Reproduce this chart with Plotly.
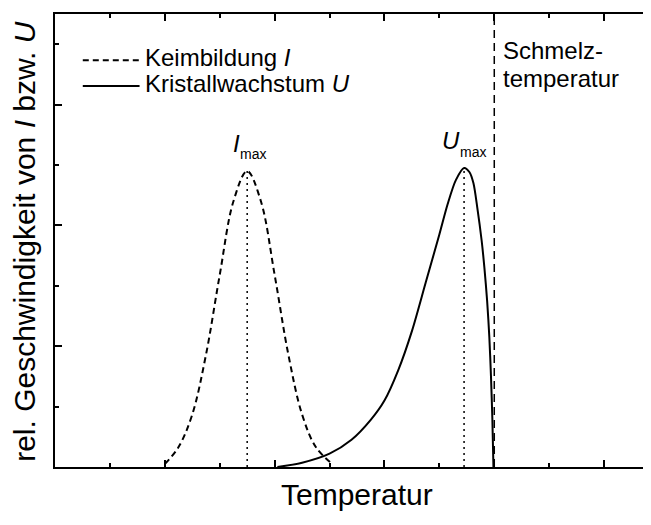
import plotly.graph_objects as go

# Keimbildung I (dashed curve)
i_x = [2.0, 2.25, 2.5, 2.75, 3.0, 3.25, 3.5, 3.75, 4.0, 4.25, 4.5, 4.75, 5.05]
i_y = [0.05, 0.33, 0.87, 1.86, 3.18, 4.40, 4.9, 4.40, 3.18, 1.86, 0.87, 0.33, 0.05]

# Kristallwachstum U (solid curve)
u_x = [4.05, 4.5, 5.0, 5.4, 5.75, 6.0, 6.25, 6.5, 6.75, 7.0, 7.15, 7.3, 7.45, 7.55, 7.62, 7.69, 7.77,
       7.82, 7.87, 7.91, 7.94, 7.965, 7.985]
u_y = [0.0, 0.07, 0.22, 0.45, 0.78, 1.1, 1.6, 2.25, 3.05, 3.85, 4.35, 4.75, 4.95, 4.88, 4.7, 4.3, 3.75,
       3.3, 2.75, 2.15, 1.5, 0.8, 0.0]

i_max_x, i_max_y = 3.5, 4.9
u_max_x, u_max_y = 7.45, 4.95
t_melt = 8.0

legend_names = ["Keimbildung <i>I</i>", "Kristallwachstum <i>U</i>"]
melt_label = ["Schmelz-", "temperatur"]
x_title = "Temperatur"
y_title = "rel. Geschwindigkeit von <i>I</i> bzw. <i>U</i>"

FONT = "Arial, Liberation Sans, sans-serif"
BLACK = "black"

fig = go.Figure()
fig.add_trace(go.Scatter(x=i_x, y=i_y, mode="lines",
                         line=dict(color=BLACK, width=2, dash="6px,4px", shape="spline", smoothing=1.0),
                         showlegend=False, hoverinfo="skip"))
fig.add_trace(go.Scatter(x=u_x, y=u_y, mode="lines",
                         line=dict(color=BLACK, width=2, shape="spline", smoothing=0.8),
                         showlegend=False, hoverinfo="skip"))

# dotted verticals at the maxima
for xm, ym in [(i_max_x, i_max_y), (u_max_x, u_max_y)]:
    fig.add_shape(type="line", x0=xm, x1=xm, y0=0, y1=ym, xref="x", yref="y",
                  line=dict(color=BLACK, width=1.5, dash="2px,4px"))
# melting temperature
fig.add_shape(type="line", x0=t_melt, x1=t_melt, y0=0, y1=1, xref="x", yref="paper",
              line=dict(color=BLACK, width=1.5, dash="8px,5px"))

# labels of the maxima
for sym, xm, ym, dx, dy, mdx, mdy in [("I", i_max_x, i_max_y, -11, 28, 6, 17),
                                       ("U", u_max_x, u_max_y, -13, 28, 9, 16)]:
    fig.add_annotation(x=xm, y=ym, xref="x", yref="y", text="<i>%s</i>" % sym, showarrow=False,
                       xanchor="center", yanchor="middle", xshift=dx, yshift=dy,
                       font=dict(family=FONT, size=24, color=BLACK))
    fig.add_annotation(x=xm, y=ym, xref="x", yref="y", text="max", showarrow=False,
                       xanchor="center", yanchor="middle", xshift=mdx, yshift=mdy,
                       font=dict(family=FONT, size=14, color=BLACK))

# melting temperature label
for k, line in enumerate(melt_label):
    fig.add_annotation(x=t_melt, y=1, xref="x", yref="paper", text=line, showarrow=False,
                       xanchor="left", yanchor="middle", xshift=7, yshift=-(36 + 28 * k),
                       font=dict(family=FONT, size=24, color=BLACK))

# legend drawn by hand (long line samples)
leg_rows = [(legend_names[0], "6px,4px", 0.898, 0.903), (legend_names[1], "solid", 0.841, 0.846)]
for name, dash, yp, yt in leg_rows:
    fig.add_shape(type="line", x0=0.046, x1=0.140, y0=yp, y1=yp, xref="paper", yref="paper",
                  line=dict(color=BLACK, width=2, dash=dash))
    fig.add_annotation(x=0.146, y=yt, xref="paper", yref="paper", text=name, showarrow=False,
                       xanchor="left", yanchor="middle", font=dict(family=FONT, size=24, color=BLACK))

# axis titles
fig.add_annotation(x=0.5, y=0, xref="paper", yref="paper", text=x_title, showarrow=False,
                   xanchor="center", yanchor="middle", yshift=-27,
                   font=dict(family=FONT, size=30, color=BLACK))
fig.add_annotation(x=0, y=0.497, xref="paper", yref="paper", text=y_title, showarrow=False, textangle=-90,
                   xanchor="center", yanchor="middle", xshift=-30, borderpad=0,
                   font=dict(family=FONT, size=30, color=BLACK))

axis_common = dict(showgrid=False, zeroline=False, showline=True, linecolor=BLACK, linewidth=2.2,
                   ticks="inside", tickwidth=1.5, ticklen=7, tickcolor=BLACK, dtick=2, tick0=0,
                   showticklabels=False, automargin=False, mirror="ticks",
                   minor=dict(ticks="inside", ticklen=4, tickwidth=1.5, tickcolor=BLACK, dtick=1, showgrid=False))

fig.update_layout(
    width=651, height=525,
    margin=dict(l=47, r=0, t=6, b=66, autoexpand=False),
    plot_bgcolor="white", paper_bgcolor="white",
    font=dict(family=FONT, color=BLACK),
    xaxis=dict(range=[0, 11.0], **axis_common),
    yaxis=dict(range=[0, 7.5], **axis_common),
)

fig.write_html("out.html")
